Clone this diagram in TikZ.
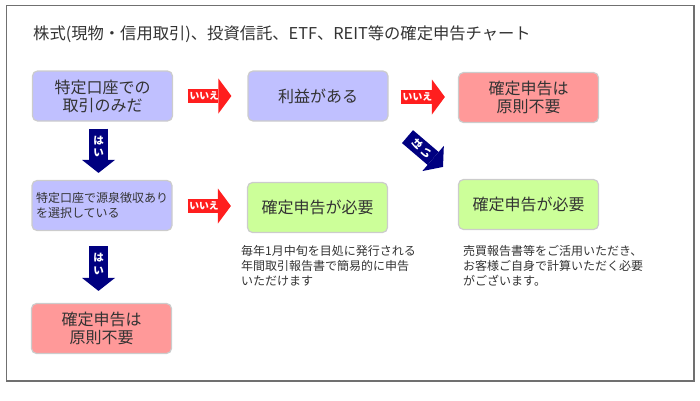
\documentclass[tikz,border=0pt]{standalone}
\usepackage{fontspec}
\setmainfont{Noto Sans CJK JP}
\usetikzlibrary{arrows.meta,calc}
\definecolor{lav}{RGB}{192,192,255}
\definecolor{pinkc}{RGB}{255,153,153}
\definecolor{greenc}{RGB}{204,255,153}
\definecolor{redc}{RGB}{255,30,30}
\definecolor{navyc}{RGB}{0,0,128}
\definecolor{txt}{RGB}{51,51,51}
\definecolor{framec}{RGB}{112,112,112}
\definecolor{boxline}{RGB}{204,204,204}
\begin{document}
\begin{tikzpicture}[x=1pt,y=-1pt,
  box/.style={draw=boxline, line width=1.2pt, rounded corners=5pt,
    minimum width=140pt, minimum height=50pt, inner sep=0pt,
    text=txt, font=\fontsize{16}{18}\selectfont, align=center},
  lavbox/.style={box, fill=lav},
  pinkbox/.style={box, fill=pinkc},
  greenbox/.style={box, fill=greenc},
  smallbox/.style={lavbox, font=\fontsize{12}{15}\selectfont, align=left},
  note/.style={text=txt, font=\fontsize{12}{15}\selectfont, align=left, inner sep=0pt, anchor=north west},
  redarrow/.style={draw=redc, line width=14pt,
    -{Triangle[length=13pt,width=35pt,line width=0pt]}},
  bluearrow/.style={draw=navyc, line width=19pt,
    -{Triangle[length=13pt,width=33pt,line width=0pt]}},
  nolab/.style={text=white, font=\fontsize{9.8}{11}\selectfont\bfseries, inner sep=0pt},
  yeslab/.style={text=white, font=\fontsize{10.5}{12.5}\selectfont\bfseries, inner sep=0pt, align=center},
]
\useasboundingbox (0,0) rectangle (700,400);
\draw[framec, line width=1.2pt] (6.5,5.5) rectangle (694,381);

\node[text=txt, font=\fontsize{16.3}{18}\selectfont, anchor=base west, inner sep=0pt] (title) at (33,39)
  {株式(現物・信用取引)、投資信託、ETF、REIT等の確定申告チャート};

\node[lavbox] (b1) at (102.5,96) {特定口座での\\取引のみだ};
\node[lavbox] (b2) at (318,96) {利益がある};
\node[pinkbox] (b3) at (528.5,97.5) {確定申告は\\原則不要};
\node[smallbox] (b4) at (102,205.5) {特定口座で源泉徴収あり\\を選択している};
\node[greenbox] (b5) at (317.5,207.5) {確定申告が必要};
\node[greenbox] (b6) at (528.5,204.5) {確定申告が必要};
\node[pinkbox] (b7) at (101.5,328.5) {確定申告は\\原則不要};

\node[note] (n5) at (241,245.5) {毎年1月中旬を目処に発行される\\年間取引報告書で簡易的に申告\\いただけます};
\node[note] (n6) at (463,245.5) {売買報告書等をご活用いただき、\\お客様ご自身で計算いただく必要\\がございます。};

% red "no" arrows
\draw[redarrow] ($(b1.east)+(14.5,0)$) -- ($(b2.west)+(-16,0)$)
  node[nolab, pos=0.38] {いいえ};
\draw[redarrow] ($(b2.east)+(12,1)$) -- ($(b3.west)+(-13,-0.5)$)
  node[nolab, pos=0.38] {いいえ};
\draw[redarrow] ($(b4.east)+(15,0.5)$) -- ($(b5.west)+(-16,-1.5)$)
  node[nolab, pos=0.38] {いいえ};

% blue "yes" arrows
\draw[bluearrow] ($(b1.south)+(-4,7)$) -- ($(b4.north)+(-3.5,-7)$)
  node[yeslab, pos=0.4] {は\\い};
\draw[bluearrow] ($(b4.south)+(-3.5,15)$) -- ($(b7.north)+(-3,-12)$)
  node[yeslab, pos=0.4] {は\\い};
\draw[navyc, line width=17pt, -{Triangle[length=13pt,width=33pt,line width=0pt]}]
  ($(b2.south)+(89.5,15)$) -- ($(b6.north)+(-85.5,-12)$)
  node[yeslab, pos=0.4, rotate=45] {は\\い};
\end{tikzpicture}
\end{document}
